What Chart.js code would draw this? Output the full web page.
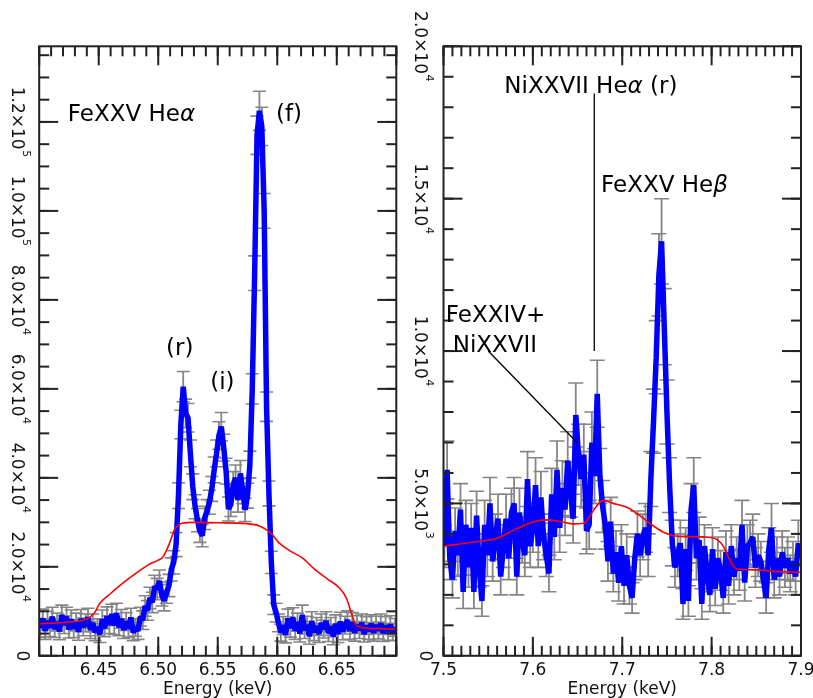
<!DOCTYPE html>
<html><head><meta charset="utf-8">
<script src="https://cdn.jsdelivr.net/npm/chart.js@4"></script>
<style>
html,body{margin:0;padding:0;background:#fff;}
#wrap{position:relative;width:813px;height:698px;overflow:hidden;background:#fff;}
canvas{position:absolute;left:0;top:0;}
</style></head><body>
<div id="wrap"><canvas id="cL" width="813" height="698"></canvas><canvas id="cR" width="813" height="698"></canvas></div>
<script>
// ---------------- DATA: left panel (Fe XXV He-alpha) ----------------
const leftEnergy = [
6.401,6.403,6.405,6.407,6.409,6.411,6.413,6.415,6.417,6.419,
6.421,6.423,6.425,6.427,6.429,6.431,6.433,6.435,6.437,6.439,
6.441,6.443,6.445,6.447,6.449,6.451,6.453,6.455,6.457,6.459,
6.461,6.463,6.465,6.467,6.469,6.471,6.473,6.475,6.477,6.479,
6.481,6.483,6.485,6.487,6.489,6.491,6.493,6.495,6.497,6.499,
6.501,6.503,6.505,6.507,6.509,6.511,6.513,6.515,6.517,6.519,
6.521,6.523,6.525,6.527,6.529,6.531,6.533,6.535,6.537,6.539,
6.541,6.543,6.545,6.547,6.549,6.551,6.553,6.555,6.557,6.559,
6.561,6.563,6.565,6.567,6.569,6.571,6.573,6.575,6.577,6.579,
6.581,6.583,6.585,6.587,6.589,6.591,6.593,6.595,6.597,6.599,
6.601,6.603,6.605,6.607,6.609,6.611,6.613,6.615,6.617,6.619,
6.621,6.623,6.625,6.627,6.629,6.631,6.633,6.635,6.637,6.639,
6.641,6.643,6.645,6.647,6.649,6.651,6.653,6.655,6.657,6.659,
6.661,6.663,6.665,6.667,6.669,6.671,6.673,6.675,6.677,6.679,
6.681,6.683,6.685,6.687,6.689,6.691,6.693,6.695,6.697,6.699];
const leftCounts = [
6200,8400,5600,7900,6300,8800,6000,7600,5500,9200,
7000,8800,5900,8200,6100,7600,5400,8300,6500,7400,
8600,5800,7400,5300,6400,4800,8200,6200,8900,7000,
9400,6800,9600,6400,8300,5800,7700,6100,8600,5200,
6400,5600,8800,8000,11200,10200,13000,12000,15600,15000,
16800,13600,12400,14200,15800,19400,21000,25000,36000,52000,
60500,54500,53500,45500,38000,33500,30500,28000,27000,31000,
32500,34500,37500,41800,45500,49500,51500,46800,41500,33000,
34000,38500,40000,35000,41000,37000,32800,36000,43000,60000,
86000,117000,122500,119000,100000,56000,36500,21000,11500,9700,
7400,5200,6800,4700,8400,6200,8700,5600,7600,5000,
9200,5800,6900,4400,7800,5300,6600,4900,7400,6000,
7800,5100,6600,4300,7200,4900,7700,5500,6900,8000,
5600,7600,5200,7000,5800,7400,4900,6800,5600,7200,
5200,6900,5700,7300,5100,6800,5400,7000,5300,6400];
const leftErr = [
2000,2100,1900,2100,2000,2100,1900,2000,1900,2200,
2000,2100,1900,2100,2000,2000,1900,2100,2000,2000,
2100,1900,2000,1900,1900,1800,2100,1900,2100,2000,
2200,2000,2200,1900,2100,1900,2000,1900,2100,1800,
2000,1900,2100,2100,2300,2200,2400,2300,2500,2400,
2500,2400,2300,2400,2500,2600,2600,2700,2900,3200,
3400,3200,3200,3000,2900,2700,2600,2500,2500,2600,
2600,2700,2800,2900,3000,3100,3200,3000,2900,2700,
2700,2900,2900,2700,2900,2800,2600,2800,3000,3400,
3900,4300,4400,4300,3900,3300,2800,2500,2200,2100,
2000,1900,2000,1800,2100,2000,2100,1900,2000,1900,
2200,1900,2000,1800,2100,1900,2000,1900,2000,2000,
2100,1900,2000,1800,2000,1900,2100,1900,2000,2100,
1900,2100,1900,2000,1900,2000,1800,2000,1900,2000,
1900,2000,1900,2100,1900,2000,1900,2000,1900,2000];
const leftModelEnergy = [6.400,6.420,6.440,6.446,6.451,6.460,6.471,6.482,6.492,6.500,6.504,6.509,6.514,6.520,6.530,6.550,6.575,6.585,6.591,6.596,6.601,6.610,6.621,6.632,6.642,6.652,6.658,6.662,6.666,6.672,6.685,6.700];
const leftModel = [7200,7500,8300,9500,11800,14000,16500,18700,20500,21500,22200,25000,28500,29800,30000,29900,29700,29200,28300,27200,25500,23700,22000,19300,17300,15300,13000,9800,7000,6300,6100,6000];

// ---------------- DATA: right panel (Ni XXVII / Fe XXV He-beta) ----------------
const rightEnergy = [
7.501,7.504,7.507,7.510,7.513,7.516,7.519,7.522,7.525,7.528,
7.531,7.534,7.537,7.540,7.543,7.546,7.549,7.552,7.555,7.558,
7.561,7.564,7.567,7.570,7.573,7.576,7.579,7.582,7.585,7.588,
7.591,7.594,7.597,7.600,7.603,7.606,7.609,7.612,7.615,7.618,
7.621,7.624,7.627,7.630,7.633,7.636,7.639,7.642,7.645,7.648,
7.651,7.654,7.657,7.660,7.663,7.666,7.669,7.672,7.675,7.678,
7.681,7.684,7.687,7.690,7.693,7.696,7.699,7.702,7.705,7.708,
7.711,7.714,7.717,7.720,7.723,7.726,7.729,7.732,7.735,7.738,
7.741,7.744,7.747,7.750,7.753,7.756,7.759,7.762,7.765,7.768,
7.771,7.774,7.777,7.780,7.783,7.786,7.789,7.792,7.795,7.798,
7.801,7.804,7.807,7.810,7.813,7.816,7.819,7.822,7.825,7.828,
7.831,7.834,7.837,7.840,7.843,7.846,7.849,7.852,7.855,7.858,
7.861,7.864,7.867,7.870,7.873,7.876,7.879,7.882,7.885,7.888,
7.891,7.894,7.897];
const rightCounts = [
3600,6100,3200,2500,4100,3300,4800,2100,4300,2900,
4200,2100,4600,2900,1800,4300,3300,5000,3100,3900,
4500,2600,3600,4500,3200,4700,5000,2600,4700,3800,
3300,5800,3600,4200,5600,3600,5200,3900,3300,2700,
5300,3900,6100,4200,5500,4800,6400,5450,4500,7900,
6600,5800,6600,4100,4300,7000,5900,8600,5900,4900,
4300,3100,4400,2700,3400,2400,3600,2300,3300,2300,
1900,3200,4000,3300,3900,4200,3300,5800,7700,9800,
12500,13600,10800,8000,5600,3700,2900,3300,3700,1700,
3500,1800,4800,5600,3200,3800,1700,3600,2700,2000,
3500,2200,3200,2800,1900,3400,2300,3600,2600,3200,
2800,4300,2400,3600,3700,3900,2900,3300,3100,2500,
1900,3500,4200,2500,3200,2600,3400,2900,3200,2700,
3100,2600,3700];
const rightErr = [
700,950,700,600,750,700,850,550,800,650,
800,550,800,650,500,800,700,850,650,750,
800,600,700,800,700,800,850,600,800,750,
700,900,700,800,900,700,850,750,700,600,
850,750,950,800,900,850,950,900,800,1050,
1000,900,1000,750,800,1000,900,1100,900,850,
800,650,800,600,700,600,700,600,700,600,
500,700,750,700,750,800,700,900,1050,1200,
1350,1400,1250,1050,900,750,650,700,750,500,
700,500,850,900,700,750,500,700,600,550,
700,550,700,650,500,700,600,700,600,700,
650,800,600,700,750,750,650,700,650,600,
500,700,800,600,700,600,700,650,700,600,
650,600,750];
const rightModelEnergy = [7.500,7.530,7.560,7.580,7.600,7.615,7.632,7.645,7.657,7.666,7.674,7.679,7.689,7.707,7.718,7.733,7.748,7.763,7.793,7.806,7.813,7.820,7.828,7.850,7.870,7.900];
const rightModel = [3600,3720,3860,4140,4390,4460,4400,4330,4350,4690,5010,5100,5010,4850,4630,4300,4030,3920,3900,3810,3600,3170,2850,2820,2770,2740];

// annotation pointer lines (keV, counts)
const niLineEnergy = [7.6687, 7.6687];
const niLineCounts = [10000, 18455];
const feNiLineEnergy = [7.5501, 7.6497];
const feNiLineCounts = [10000, 6992];

// ---------------- tick labels ----------------
const leftXTickValues = [6.45, 6.50, 6.55, 6.60, 6.65];
const leftXTickLabels = ['6.45', '6.50', '6.55', '6.60', '6.65'];
const leftYTickValues = [0, 20000, 40000, 60000, 80000, 100000, 120000];
const leftYTickLabels = ['0', '2.0×10^4', '4.0×10^4', '6.0×10^4', '8.0×10^4', '1.0×10^5', '1.2×10^5'];
const rightXTickValues = [7.5, 7.6, 7.7, 7.8, 7.9];
const rightXTickLabels = ['7.5', '7.6', '7.7', '7.8', '7.9'];
const rightYTickValues = [0, 5000, 10000, 15000, 20000];
const rightYTickLabels = ['0', '5.0×10^3', '1.0×10^4', '1.5×10^4', '2.0×10^4'];
const axisTitle = 'Energy (keV)';

// annotation texts: anchor in data coordinates, parts [text, italic?]
const leftNotes = [
  {x: 6.424, y: 120200, parts: [['FeXXV He', false], ['α', true]]},
  {x: 6.5989, y: 120200, parts: [['(f)', false]]},
  {x: 6.5066, y: 67500, parts: [['(r)', false]]},
  {x: 6.5437, y: 59900, parts: [['(i)', false]]}
];
const rightNotes = [
  {x: 7.5681, y: 18455, parts: [['NiXXVII He', false], ['α', true], [' (r)', false]]},
  {x: 7.6763, y: 15230, parts: [['FeXXV He', false], ['β', true]]},
  {x: 7.5026, y: 10960, parts: [['FeXXIV+', false]]},
  {x: 7.5103, y: 9977, parts: [['NiXXVII', false]]}
];

// ---------------- helpers ----------------
function xy(E, V) { return E.map((e, i) => ({x: e, y: V[i]})); }
function errBarSegments(E, V, S) {
  const pts = [];
  E.forEach((e, i) => { pts.push({x: e, y: V[i] - S[i]}, {x: e, y: V[i] + S[i]}, {x: e, y: null}); });
  return pts;
}
function errCaps(E, V, S) {
  const pts = [];
  E.forEach((e, i) => { pts.push({x: e, y: V[i] - S[i]}, {x: e, y: V[i] + S[i]}); });
  return pts;
}

const FONT = '"DejaVu Sans", "Liberation Sans", sans-serif';
const axesFrame = {
  id: 'axesFrame',
  afterDraw(chart, args, o) {
    const {ctx, chartArea: a} = chart;
    const sx = chart.scales.x, sy = chart.scales.y;
    ctx.save();
    ctx.strokeStyle = '#222';
    ctx.lineWidth = 2;
    ctx.lineCap = 'butt';
    const seg = (x1, y1, x2, y2) => { ctx.beginPath(); ctx.moveTo(x1, y1); ctx.lineTo(x2, y2); ctx.stroke(); };
    const each = (min, max, step, fn) => { for (let k = 0; ; k++) { const v = min + k * step; if (v > max + step * 1e-6) break; fn(v); } };
    const xt = (v, len) => { const p = sx.getPixelForValue(v); seg(p, a.bottom, p, a.bottom - len); seg(p, a.top, p, a.top + len); };
    const yt = (v, len) => { const p = sy.getPixelForValue(v); seg(a.left, p, a.left + len, p); seg(a.right, p, a.right - len, p); };
    each(sx.min, sx.max, o.xMinor, v => xt(v, 10));
    each(sx.min, sx.max, o.xMajor, v => xt(v, 19));
    each(sy.min, sy.max, o.yMinor, v => yt(v, 10));
    each(sy.min, sy.max, o.yMajor, v => yt(v, 19));
    ctx.strokeRect(a.left, a.top, a.right - a.left, a.bottom - a.top);

    ctx.fillStyle = '#111';
    ctx.font = '17px ' + FONT;
    ctx.textAlign = 'center';
    ctx.textBaseline = 'alphabetic';
    o.xValues.forEach((v, i) => ctx.fillText(o.xLabels[i], sx.getPixelForValue(v), a.bottom + 19.5));
    ctx.fillText(o.title, (a.left + a.right) / 2, a.bottom + 38);

    // rotated y labels (reading downwards)
    o.yValues.forEach((v, i) => {
      const [mant, exp] = o.yLabels[i].split('^');
      const py = sy.getPixelForValue(v);
      ctx.save();
      ctx.translate(a.left + o.yLabelDx + (exp ? 0 : 5), py);
      ctx.rotate(Math.PI / 2);
      ctx.textAlign = 'left';
      ctx.font = '17px ' + FONT;
      const w1 = ctx.measureText(mant).width;
      ctx.font = '11px ' + FONT;
      const w2 = exp ? ctx.measureText(exp).width + 0.5 : 0;
      const start = -(w1 + w2) / 2;
      ctx.font = '17px ' + FONT;
      ctx.fillText(mant, start, 0);
      if (exp) { ctx.font = '11px ' + FONT; ctx.fillText(exp, start + w1 + 0.5, -11); }
      ctx.restore();
    });

    // annotations
    ctx.textAlign = 'left';
    ctx.fillStyle = '#000';
    o.notes.forEach(n => {
      let px = sx.getPixelForValue(n.x);
      const py = sy.getPixelForValue(n.y);
      n.parts.forEach(([t, it]) => {
        ctx.font = (it ? 'italic ' : '') + '23px ' + FONT;
        ctx.fillText(t, px, py);
        px += ctx.measureText(t).width;
      });
    });
    ctx.restore();
  }
};

function makeChart(id, c) {
  const datasets = [
    {data: xy(c.modelE, c.model), borderColor: '#ff0000', borderWidth: 1.6, pointRadius: 0, cubicInterpolationMode: 'monotone', order: 0, clip: 0},
    ...c.lines.map(l => ({data: xy(l[0], l[1]), borderColor: '#000', borderWidth: 1.3, pointRadius: 0, order: 0, clip: false})),
    {data: xy(c.E, c.V), borderColor: '#0000ff', borderWidth: 5.5, pointRadius: 0, borderJoinStyle: 'bevel', order: 1, clip: 0},
    {data: errCaps(c.E, c.V, c.S), showLine: false, pointStyle: 'line', pointRadius: c.capR, pointBorderWidth: 1.6, borderColor: '#858585', pointBorderColor: '#858585', order: 2, clip: 0},
    {data: errBarSegments(c.E, c.V, c.S), borderColor: '#858585', borderWidth: 1.8, pointRadius: 0, spanGaps: false, order: 3, clip: 0}
  ];
  return new Chart(document.getElementById(id), {
    type: 'line',
    data: {datasets},
    options: {
      responsive: false, animation: false, events: [], devicePixelRatio: 1,
      layout: {padding: c.padding},
      scales: {
        x: {type: 'linear', min: c.xMin, max: c.xMax, display: false},
        y: {type: 'linear', min: 0, max: c.yMax, display: false}
      },
      plugins: {legend: {display: false}, tooltip: {enabled: false}, axesFrame: c.axes}
    },
    plugins: [axesFrame]
  });
}

makeChart('cL', {
  E: leftEnergy, V: leftCounts, S: leftErr, modelE: leftModelEnergy, model: leftModel, lines: [],
  xMin: 6.40, xMax: 6.70, yMax: 137000, capR: 6.5,
  padding: {left: 39.2, top: 46.3, right: 416.7, bottom: 42.2},
  axes: {xMinor: 0.01, xMajor: 0.05, yMinor: 5000, yMajor: 20000,
         xValues: leftXTickValues, xLabels: leftXTickLabels, yValues: leftYTickValues, yLabels: leftYTickLabels,
         yLabelDx: -27.5, title: axisTitle, notes: leftNotes}
});
makeChart('cR', {
  E: rightEnergy, V: rightCounts, S: rightErr, modelE: rightModelEnergy, model: rightModel,
  lines: [[niLineEnergy, niLineCounts], [feNiLineEnergy, feNiLineCounts]],
  xMin: 7.5, xMax: 7.9, yMax: 20000, capR: 7.5,
  padding: {left: 443.5, top: 46.3, right: 12, bottom: 42.2},
  axes: {xMinor: 0.01, xMajor: 0.1, yMinor: 1000, yMajor: 5000,
         xValues: rightXTickValues, xLabels: rightXTickLabels, yValues: rightYTickValues, yLabels: rightYTickLabels,
         yLabelDx: -28.5, title: axisTitle, notes: rightNotes}
});
</script></body></html>
